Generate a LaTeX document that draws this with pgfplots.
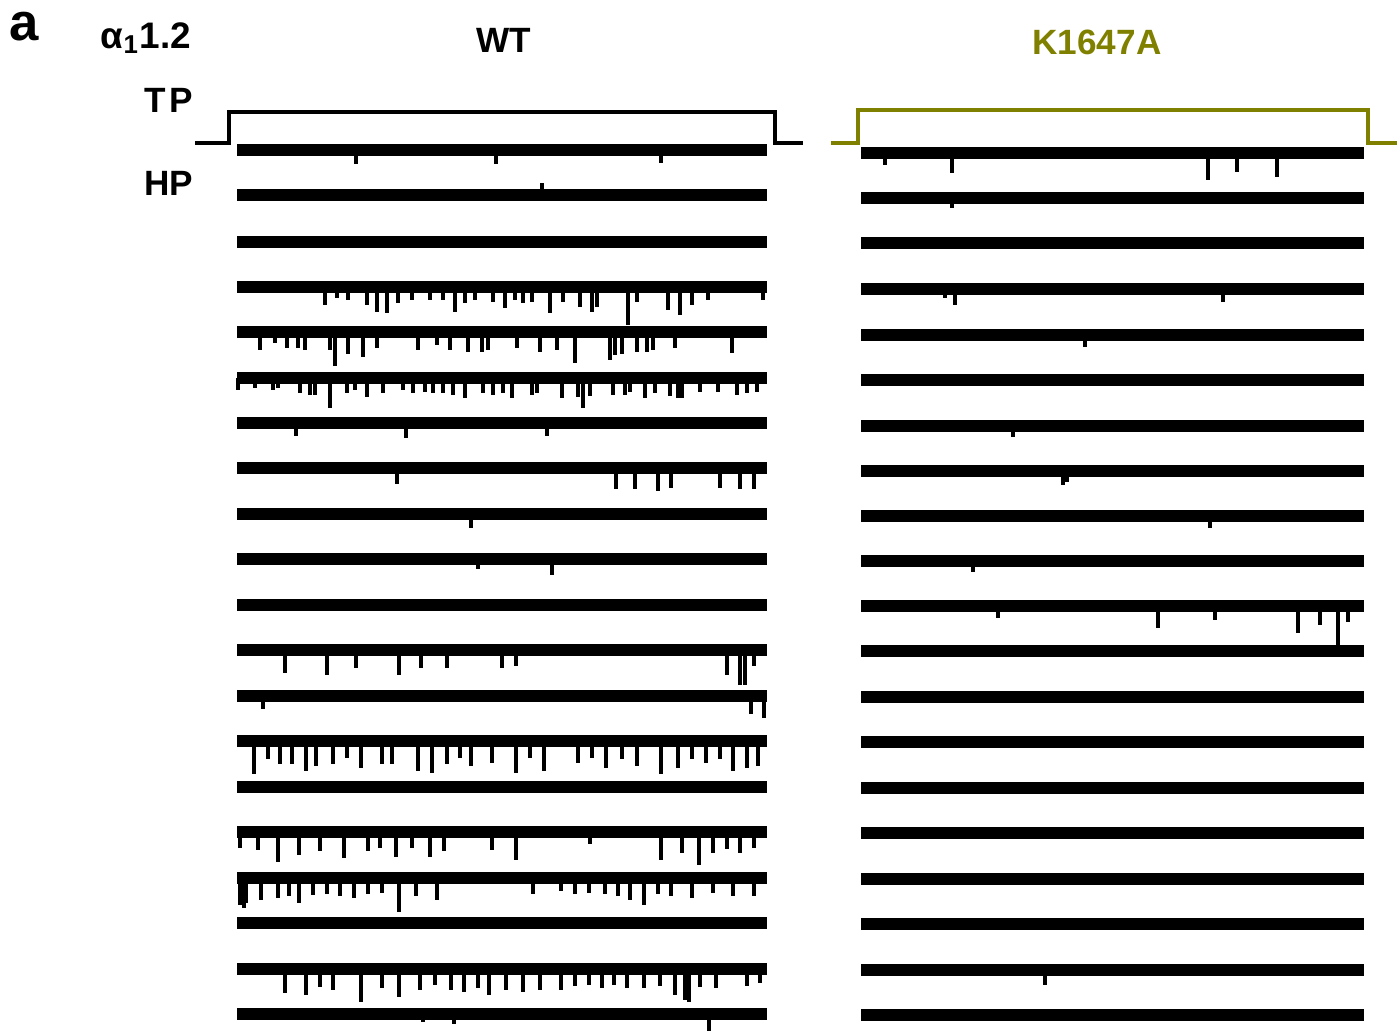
\documentclass[border=0pt]{standalone}
\usepackage{fontspec}
\setmainfont{Liberation Sans}
\usepackage{pgfplots}
\usepackage{pgfplotstable}
\pgfplotsset{compat=1.18}
\definecolor{kol}{RGB}{128,128,0}

% baselines of the sweeps: centre x, level y, half length ex
\pgfplotstableread{
x y ex
502 150 265
502 195 265
502 242 265
502 287 265
502 332 265
502 378 265
502 423 265
502 468 265
502 514 265
502 559 265
502 605 265
502 650 265
502 696 265
502 741 265
502 787 265
502 832 265
502 878 265
502 923 265
502 969 265
502 1014 265
1112.5 153 251.5
1112.5 198 251.5
1112.5 243 251.5
1112.5 289 251.5
1112.5 335 251.5
1112.5 380 251.5
1112.5 426 251.5
1112.5 471 251.5
1112.5 516 251.5
1112.5 561 251.5
1112.5 606 251.5
1112.5 651 251.5
1112.5 697 251.5
1112.5 742 251.5
1112.5 788 251.5
1112.5 833 251.5
1112.5 879 251.5
1112.5 924 251.5
1112.5 970 251.5
1112.5 1015 251.5
}\bases

% channel openings: x, level y, depth e
\pgfplotstableread{
x y e
356 150 14
496 150 14
661 150 13
542 183 12
325 287 18
337 287 11
348 287 13
367 287 18
377 287 25
387 287 26
398 287 16
412 287 13
430 287 13
443 287 13
455 287 25
465 287 16
475 287 13
493 287 15
505 287 21
515 287 13
523 287 16
532 287 15
550 287 26
563 287 15
580 287 20
592 287 25
597 287 20
628 287 38
637 287 15
668 287 23
680 287 28
692 287 18
708 287 13
763 287 13
260 332 18
275 332 11
287 332 16
298 332 16
305 332 18
330 332 18
335 332 34
348 332 22
363 332 25
377 332 16
418 332 18
437 332 13
450 332 18
468 332 20
482 332 20
488 332 18
517 332 16
540 332 20
557 332 18
575 332 31
610 332 28
615 332 23
622 332 22
637 332 20
647 332 20
653 332 18
675 332 16
732 332 21
238 378 12
255 378 10
273 378 12
278 378 10
300 378 15
310 378 17
315 378 17
330 378 30
347 378 15
355 378 12
367 378 19
383 378 15
403 378 12
413 378 15
425 378 14
433 378 15
443 378 15
453 378 17
465 378 20
483 378 15
493 378 17
503 378 15
512 378 20
532 378 17
537 378 15
562 378 20
578 378 19
583 378 30
590 378 18
613 378 17
625 378 17
630 378 14
645 378 20
655 378 15
670 378 18
678 378 20
682 378 20
700 378 14
718 378 14
737 378 17
747 378 15
757 378 14
296 423 13
406 423 15
547 423 13
397 468 16
616 468 21
635 468 21
658 468 23
671 468 20
720 468 20
740 468 21
754 468 21
471 514 14
478 559 10
552 559 16
285 650 23
327 650 25
356 650 18
399 650 25
421 650 18
447 650 18
502 650 18
516 650 16
727 650 25
740 650 35
745 650 35
754 650 16
263 696 13
751 696 18
764 696 22
254 741 33
268 741 18
280 741 23
292 741 23
306 741 30
316 741 25
333 741 23
347 741 17
361 741 27
382 741 23
392 741 23
418 741 30
432 741 32
447 741 23
460 741 17
471 741 25
492 741 22
516 741 32
530 741 17
544 741 30
578 741 22
592 741 17
606 741 27
622 741 18
637 741 25
661 741 33
678 741 27
692 741 18
706 741 22
720 741 18
733 741 30
747 741 27
758 741 25
240 832 16
258 832 18
278 832 30
299 832 23
320 832 19
344 832 26
368 832 19
380 832 16
396 832 25
412 832 16
430 832 25
444 832 19
492 832 18
516 832 28
590 832 12
661 832 28
682 832 21
699 832 33
713 832 21
727 832 17
740 832 21
754 832 16
240 878 27
242 878 25
244 878 30
246 878 25
261 878 22
278 878 20
289 878 18
299 878 25
313 878 17
327 878 16
340 878 18
354 878 20
368 878 16
382 878 15
399 878 34
416 878 18
437 878 22
533 878 16
561 878 13
575 878 16
589 878 15
605 878 16
618 878 18
630 878 22
644 878 27
658 878 16
671 878 18
692 878 20
713 878 15
733 878 18
754 878 18
285 969 24
306 969 26
320 969 18
333 969 21
361 969 33
382 969 19
399 969 28
420 969 21
435 969 16
451 969 21
464 969 23
478 969 19
489 969 26
506 969 21
523 969 23
540 969 21
561 969 21
575 969 17
589 969 16
602 969 19
614 969 16
627 969 19
644 969 19
660 969 17
675 969 26
685 969 31
689 969 33
700 969 18
716 969 19
747 969 17
760 969 14
423 1014 8
454 1014 10
709 1014 17
885 153 12
952 153 20
1208 153 27
1237 153 19
1277 153 24
952 198 10
945 289 9
955 289 16
1223 289 13
1085 335 12
1013 426 11
1063 471 14
1067 471 11
1210 516 12
973 561 11
998 606 12
1158 606 22
1215 606 14
1298 606 27
1320 606 19
1338 606 41
1348 606 16
1045 970 15
}\spikes

\begin{document}
\begin{tikzpicture}
\begin{axis}[name=ax, width=13.97cm, height=10.33cm, scale only axis,
  xmin=0, xmax=1397, ymin=0, ymax=1033, y dir=reverse,
  hide axis, clip=false]
\addplot[draw=none, error bars/.cd, x dir=both, x explicit, error mark=none,
  error bar style={draw=black, line width=3.2pt}]
  table[x=x, y=y, x error=ex]{\bases};
\addplot[draw=none, error bars/.cd, y dir=plus, y explicit, error mark=none,
  error bar style={draw=black, line width=1.1pt}]
  table[x=x, y=y, y error=e]{\spikes};
\addplot[black, line width=1.15pt] coordinates {(195,143)(229,143)(229,112)(775,112)(775,143)(803,143)};
\addplot[kol, line width=1.15pt] coordinates {(831,143)(858,143)(858,110)(1368,110)(1368,143)(1397,143)};
\node[font=\bfseries\fontsize{15}{15}\selectfont] at (axis cs:24,27) {a};
\node[font=\bfseries\fontsize{10.5}{12}\selectfont] at (axis cs:146,38) {α\textsubscript{1}1.2};
\node[font=\bfseries\fontsize{10}{12}\selectfont] at (axis cs:504,40) {WT};
\node[font=\bfseries\fontsize{10}{12}\selectfont, text=kol] at (axis cs:1097,42) {K1647A};
\node[font=\bfseries\fontsize{10}{12}\selectfont] at (axis cs:169,100) {T\kern1pt P};
\node[font=\bfseries\fontsize{10}{12}\selectfont] at (axis cs:169,183) {HP};
\end{axis}
\pgfresetboundingbox
\path (ax.south west) rectangle (ax.north east);
\end{tikzpicture}
\end{document}
